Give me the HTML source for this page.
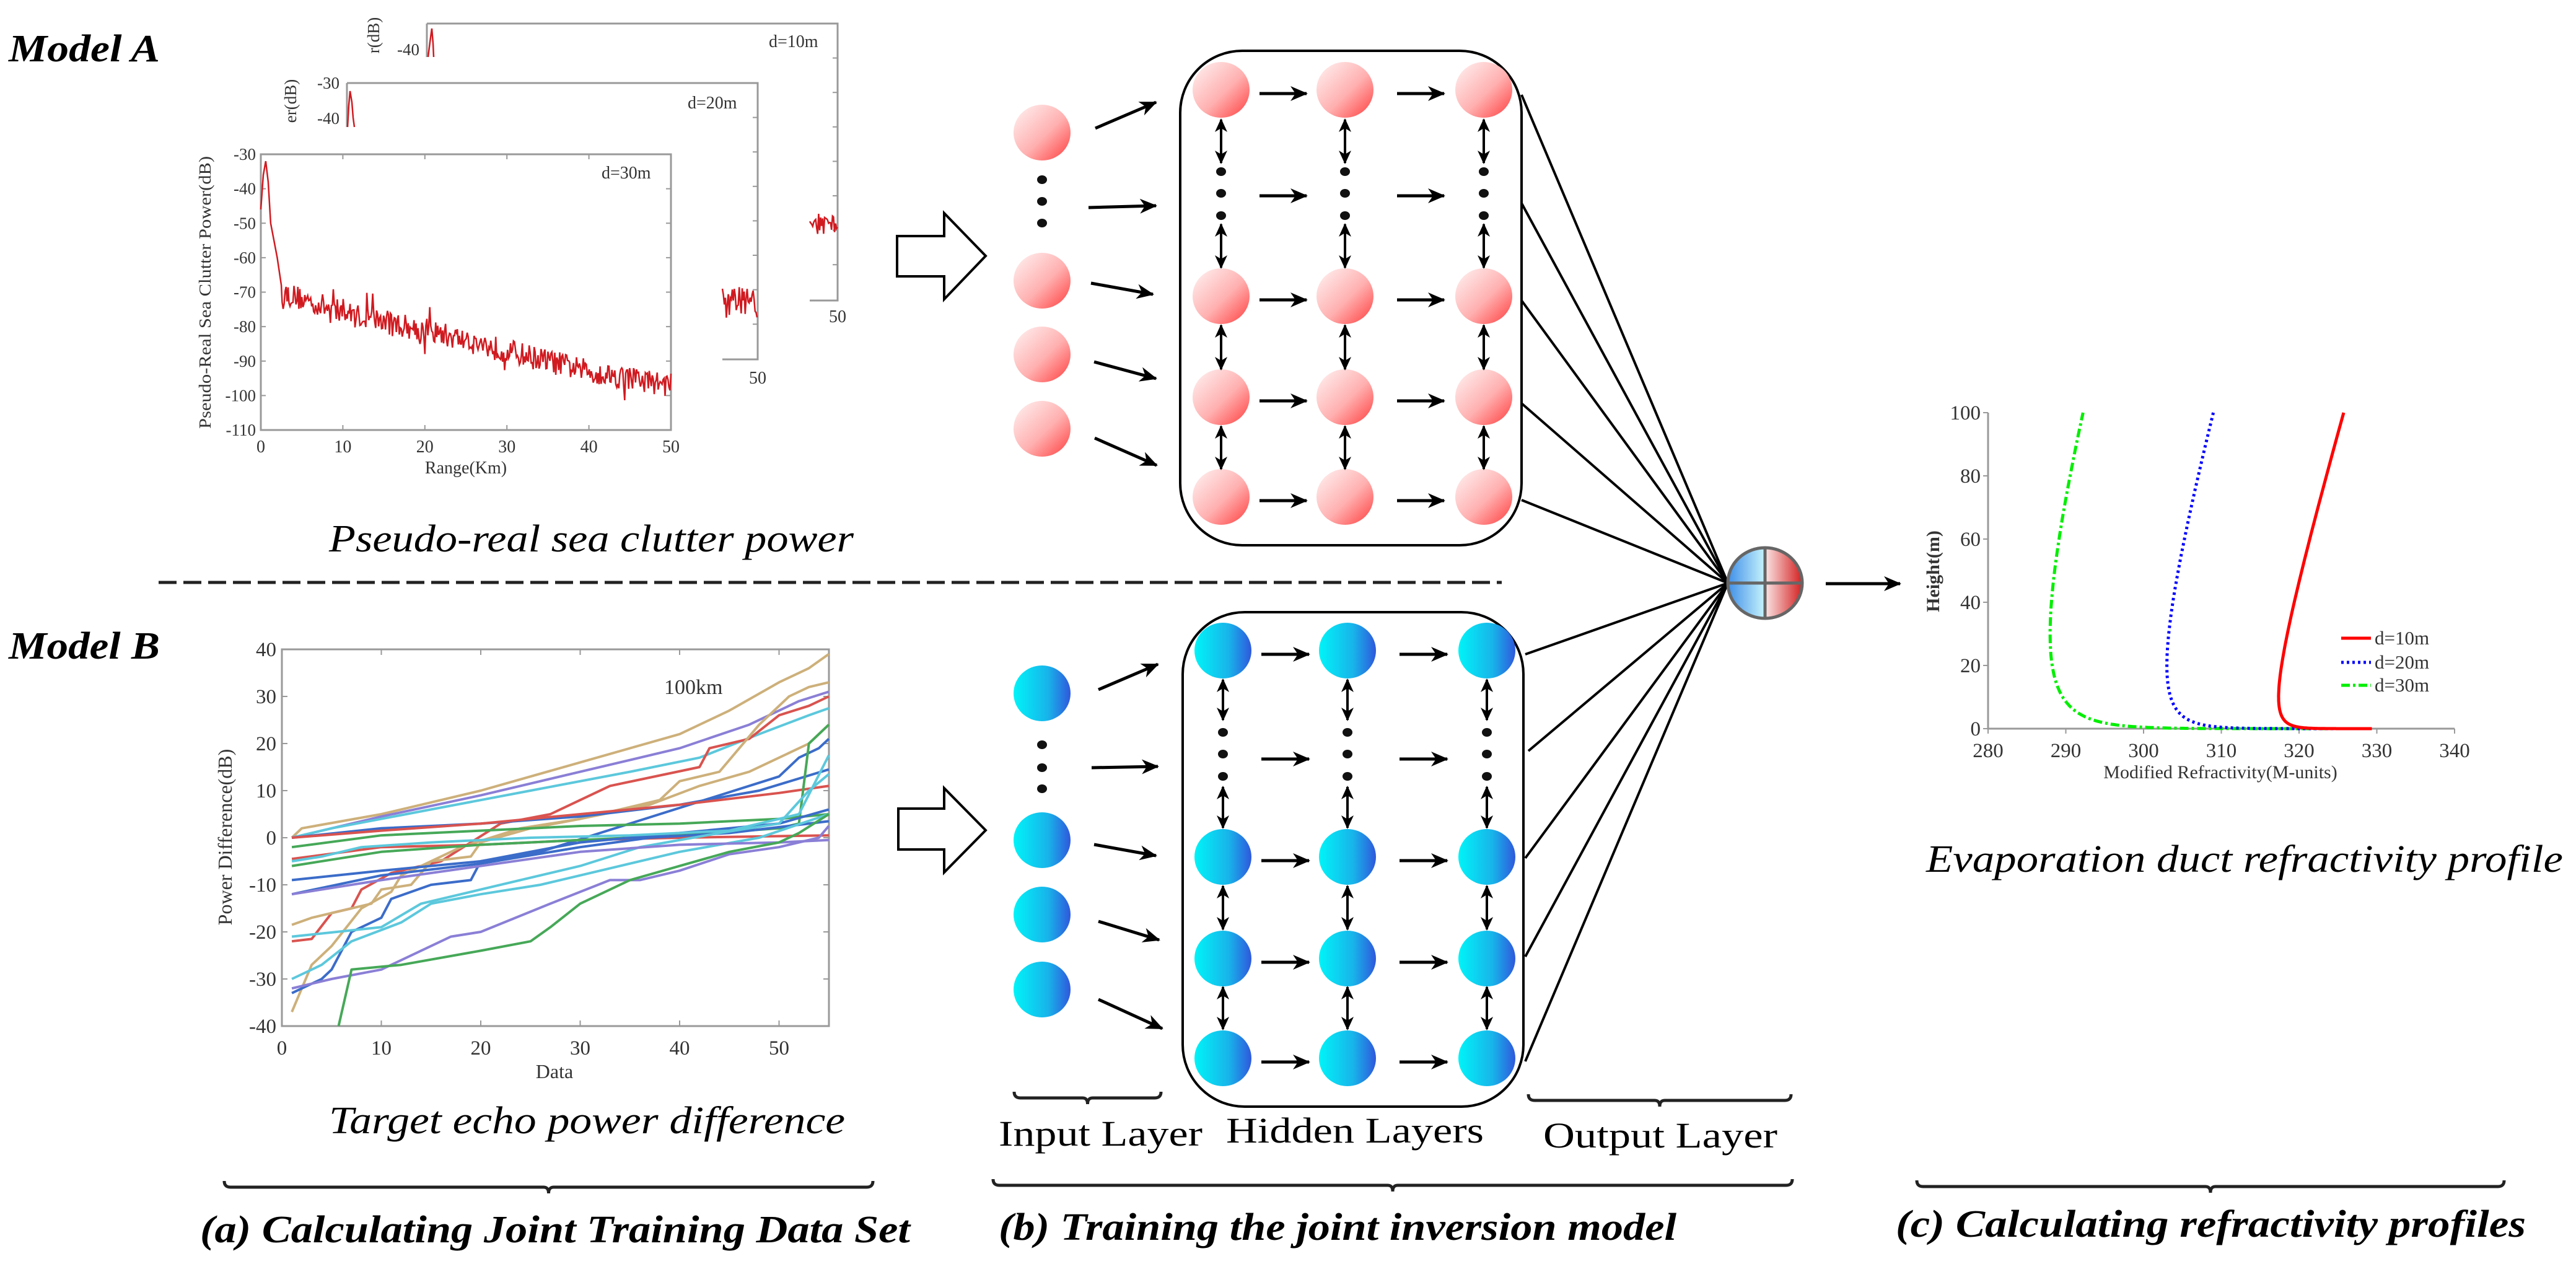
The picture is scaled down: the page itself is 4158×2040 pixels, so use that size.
<!DOCTYPE html>
<html><head><meta charset="utf-8"><style>
html,body{margin:0;padding:0;background:#fff;}
svg{display:block;}
text{font-family:"Liberation Serif",serif;}
</style></head><body>
<svg id="s" width="4158" height="2040" viewBox="0 0 4158 2040" xmlns="http://www.w3.org/2000/svg">
<defs>
<linearGradient id="gr" x1="0" y1="0" x2="1" y2="1"><stop offset="0" stop-color="#fff4f4"/><stop offset="0.55" stop-color="#ffb0b0"/><stop offset="1" stop-color="#ff3c3c"/></linearGradient>
<linearGradient id="gb" x1="0" y1="0" x2="1" y2="0"><stop offset="0" stop-color="#00f4f8"/><stop offset="0.6" stop-color="#18b4ea"/><stop offset="1" stop-color="#2f58dc"/></linearGradient>
<linearGradient id="ob" x1="0" y1="0" x2="1" y2="0"><stop offset="0" stop-color="#3f8fe8"/><stop offset="1" stop-color="#c8f4fc"/></linearGradient>
<linearGradient id="or" x1="0" y1="0" x2="1" y2="0"><stop offset="0" stop-color="#fbe6e6"/><stop offset="1" stop-color="#d42020"/></linearGradient>
<marker id="ah" markerUnits="userSpaceOnUse" markerWidth="30" markerHeight="26" refX="26" refY="13" orient="auto-start-reverse"><path d="M0,1 L28,13 L0,25 L8,13 Z" fill="#000"/></marker>
<marker id="ah2" markerUnits="userSpaceOnUse" markerWidth="24" markerHeight="20" refX="20" refY="10" orient="auto-start-reverse"><path d="M0,0 L22,10 L0,20 L6,10 Z" fill="#000"/></marker>
</defs>

<!-- Titles -->
<text x="14" y="99" font-size="62" font-weight="bold" font-style="italic" textLength="244" lengthAdjust="spacingAndGlyphs">Model A</text>
<text x="14" y="1063" font-size="62" font-weight="bold" font-style="italic" textLength="244" lengthAdjust="spacingAndGlyphs">Model B</text>

<!-- Plot A frames -->
<g fill="none" stroke="#999" stroke-width="3">
<path d="M689,38 H1352 V485 H1307"/>
<path d="M689,38 V92"/>
<path d="M560,134 H1223 V580 H1166"/>
<path d="M560,134 V205"/>
<rect x="421" y="249" width="662" height="445" fill="#fff"/>
</g>
<g id="pa"></g>
<text x="1241" y="76" font-size="28" fill="#333">d=10m</text>
<text x="1110" y="175" font-size="28" fill="#333">d=20m</text>
<text x="971" y="288" font-size="28" fill="#333">d=30m</text>
<text x="641" y="89" font-size="27" fill="#333">-40</text>
<text x="512" y="143" font-size="27" fill="#333">-30</text>
<text x="512" y="200" font-size="27" fill="#333">-40</text>
<text x="1352" y="520" font-size="28" fill="#333" text-anchor="middle">50</text>
<text x="1223" y="619" font-size="28" fill="#333" text-anchor="middle">50</text>
<text transform="translate(612,57) rotate(-90)" font-size="27" fill="#333" text-anchor="middle">r(dB)</text>
<text transform="translate(478,163) rotate(-90)" font-size="27" fill="#333" text-anchor="middle">er(dB)</text>
<text transform="translate(340,472) rotate(-90)" font-size="27" fill="#333" text-anchor="middle" textLength="440" lengthAdjust="spacingAndGlyphs">Pseudo-Real Sea Clutter Power(dB)</text>
<text x="752" y="764" font-size="28" fill="#333" text-anchor="middle">Range(Km)</text>
<text x="531" y="890" font-size="62" font-style="italic" textLength="847" lengthAdjust="spacingAndGlyphs">Pseudo-real sea clutter power</text>

<!-- dashed line -->
<line x1="256" y1="940" x2="2424" y2="940" stroke="#222" stroke-width="5" stroke-dasharray="29,11"/>

<!-- Plot B -->
<rect x="455" y="1048" width="883" height="608" fill="none" stroke="#999" stroke-width="3"/>
<g id="pb"></g>
<text x="1072" y="1120" font-size="34" fill="#333">100km</text>
<text transform="translate(374,1351) rotate(-90)" font-size="32" fill="#333" text-anchor="middle">Power Difference(dB)</text>
<text x="895" y="1740" font-size="32" fill="#333" text-anchor="middle">Data</text>
<text x="531" y="1829" font-size="62" font-style="italic" textLength="833" lengthAdjust="spacingAndGlyphs">Target echo power difference</text>

<!-- hollow arrows -->
<polygon points="1448,381 1524,381 1524,344 1591,413 1524,483 1524,446 1448,446" fill="#fff" stroke="#000" stroke-width="4"/>
<polygon points="1450,1305 1524,1305 1524,1272 1591,1340 1524,1408 1524,1371 1450,1371" fill="#fff" stroke="#000" stroke-width="4"/>

<!-- network -->
<rect x="1905" y="82" width="551" height="798" rx="100" fill="none" stroke="#000" stroke-width="4"/>
<rect x="1909" y="988" width="550" height="798" rx="100" fill="none" stroke="#000" stroke-width="4"/>
<g id="net"></g>

<!-- output node -->
<path d="M2849,884 A60,57 0 0 0 2849,998 Z" fill="url(#ob)"/>
<path d="M2849,884 A60,57 0 0 1 2849,998 Z" fill="url(#or)"/>
<ellipse cx="2849" cy="941" rx="60" ry="57" fill="none" stroke="#666" stroke-width="5"/>
<line x1="2849" y1="884" x2="2849" y2="998" stroke="#666" stroke-width="5"/>
<line x1="2789" y1="941" x2="2909" y2="941" stroke="#666" stroke-width="5"/>
<line x1="2947" y1="942" x2="3067" y2="942" stroke="#000" stroke-width="5" marker-end="url(#ah)"/>

<!-- Plot C -->
<path d="M3209,666 V1176 H3962" fill="none" stroke="#999" stroke-width="3"/>
<g id="pc"></g>
<text transform="translate(3130,922) rotate(-90)" font-size="30" font-weight="bold" fill="#333" text-anchor="middle">Height(m)</text>
<text x="3584" y="1256" font-size="30" fill="#333" text-anchor="middle">Modified Refractivity(M-units)</text>
<line x1="3779" y1="1030" x2="3827" y2="1030" stroke="#f00" stroke-width="5"/>
<line x1="3779" y1="1069" x2="3827" y2="1069" stroke="#00f" stroke-width="5" stroke-dasharray="4,5"/>
<line x1="3779" y1="1106" x2="3827" y2="1106" stroke="#0e0" stroke-width="5" stroke-dasharray="14,5,4,5"/>
<text x="3833" y="1040" font-size="31" fill="#333">d=10m</text>
<text x="3833" y="1079" font-size="31" fill="#333">d=20m</text>
<text x="3833" y="1116" font-size="31" fill="#333">d=30m</text>
<text x="3109" y="1407" font-size="62" font-style="italic" textLength="1028" lengthAdjust="spacingAndGlyphs">Evaporation duct refractivity profile</text>

<!-- braces & labels -->
<g id="br" fill="none" stroke="#222" stroke-width="5"></g>
<text x="1612" y="1849" font-size="58" textLength="329" lengthAdjust="spacingAndGlyphs">Input Layer</text>
<text x="1979" y="1844" font-size="58" textLength="416" lengthAdjust="spacingAndGlyphs">Hidden Layers</text>
<text x="2491" y="1852" font-size="58" textLength="378" lengthAdjust="spacingAndGlyphs">Output Layer</text>
<text x="323" y="2005" font-size="62" font-weight="bold" font-style="italic" textLength="1146" lengthAdjust="spacingAndGlyphs">(a) Calculating Joint Training Data Set</text>
<text x="1612" y="2001" font-size="62" font-weight="bold" font-style="italic" textLength="1094" lengthAdjust="spacingAndGlyphs">(b) Training the joint inversion model</text>
<text x="3060" y="1996" font-size="62" font-weight="bold" font-style="italic" textLength="1017" lengthAdjust="spacingAndGlyphs">(c) Calculating refractivity  profiles</text>
</svg>
<script>
(function(){
var NS="http://www.w3.org/2000/svg";
function el(t,a,p){var e=document.createElementNS(NS,t);for(var k in a)e.setAttribute(k,a[k]);if(p)p.appendChild(e);return e;}
function tx(s,a,p){var e=el("text",a,p);e.textContent=s;return e;}
var seed=12345;function rnd(){seed=(seed*16807)%2147483647;return seed/2147483647;}
function pts(a){return a.map(function(p){return p[0].toFixed(1)+","+p[1].toFixed(1);}).join(" ");}

/* ---------- Plot A ---------- */
var pa=document.getElementById("pa");
function ax(r){return 421+r*13.24;} function ay(p){return 249+(-30-p)*5.5625;}
for(var i=0;i<9;i++){var v=-30-10*i,y=ay(v);
 tx(String(v),{x:413,y:y+9,"font-size":27,fill:"#333","text-anchor":"end"},pa);
 el("line",{x1:421,y1:y,x2:429,y2:y,stroke:"#999","stroke-width":2},pa);
 el("line",{x1:1083,y1:y,x2:1075,y2:y,stroke:"#999","stroke-width":2},pa);}
for(var i=0;i<6;i++){var x=ax(10*i);
 tx(String(10*i),{x:x,y:730,"font-size":28,fill:"#333","text-anchor":"middle"},pa);
 el("line",{x1:x,y1:694,x2:x,y2:686,stroke:"#999","stroke-width":2},pa);
 el("line",{x1:x,y1:249,x2:x,y2:257,stroke:"#999","stroke-width":2},pa);}
for(var i=1;i<8;i++){ // right ticks of back frames
 el("line",{x1:1223,y1:134+i*55.6,x2:1215,y2:134+i*55.6,stroke:"#999","stroke-width":2},pa);
 el("line",{x1:1352,y1:38+i*55.6,x2:1344,y2:38+i*55.6,stroke:"#999","stroke-width":2},pa);}
var head=[[0,-46],[0.3,-36],[0.6,-32],[0.9,-38],[1.2,-50],[1.6,-55],[2,-60],[2.5,-68]];
var tr=[[2.5,-70],[5,-72],[10,-76],[20,-81],[30,-87],[40,-93],[50,-97]];
function trend(r){for(var k=0;k<tr.length-1;k++){if(r<=tr[k+1][0]){var t=(r-tr[k][0])/(tr[k+1][0]-tr[k][0]);return tr[k][1]+t*(tr[k+1][1]-tr[k][1]);}}return -97;}
var P=head.map(function(q){return [ax(q[0]),ay(q[1])];});
for(var r=2.6;r<=50;r+=0.12){var n=(rnd()-0.5)*7;if(rnd()<0.05)n+=(rnd()-0.5)*16;P.push([ax(r),ay(Math.max(-104,trend(r)+n))]);}
el("polyline",{points:pts(P),fill:"none",stroke:"#d01a20","stroke-width":2.5},pa);
function frag(x0,x1,yc,amp){var a=[];for(var x=x0;x<=x1;x+=1.6){a.push([x,yc+(rnd()-0.5)*amp]);}el("polyline",{points:pts(a),fill:"none",stroke:"#d01a20","stroke-width":2.5},pa);}
frag(1166,1223,488,50);frag(1307,1352,362,34);
el("polyline",{points:"561,205 563,170 565,147 568,165 570,190 572,205",fill:"none",stroke:"#d01a20","stroke-width":2.5},pa);
el("polyline",{points:"691,92 694,68 697,46 699,70 700,92",fill:"none",stroke:"#d01a20","stroke-width":2.5},pa);

/* ---------- Plot B ---------- */
var pb=document.getElementById("pb");
function bx(d){return 455+d*16.05;} function by(v){return 1048+(40-v)*7.6;}
for(var i=0;i<9;i++){var v=40-10*i,y=by(v);
 tx(String(v),{x:446,y:y+11,"font-size":33,fill:"#333","text-anchor":"end"},pb);
 el("line",{x1:455,y1:y,x2:464,y2:y,stroke:"#999","stroke-width":2},pb);
 el("line",{x1:1338,y1:y,x2:1329,y2:y,stroke:"#999","stroke-width":2},pb);}
for(var i=0;i<6;i++){var x=bx(10*i);
 tx(String(10*i),{x:x,y:1702,"font-size":33,fill:"#333","text-anchor":"middle"},pb);
 el("line",{x1:x,y1:1656,x2:x,y2:1647,stroke:"#999","stroke-width":2},pb);
 el("line",{x1:x,y1:1048,x2:x,y2:1057,stroke:"#999","stroke-width":2},pb);}
var T="#cdb07a",Pu="#8a7fd6",C="#5cc8dc",R="#d9534f",B="#3b6cc9",G="#46a858";
var L=[
[T,[[1,0],[2,2],[10,5],[20,10],[30,16],[40,22],[45,27],[50,33],[53,36],[55,39]]],
[Pu,[[1,0],[10,4.5],[20,9],[30,14],[40,19],[47,24],[52,29],[55,31]]],
[C,[[1,0],[5,2],[15,6],[25,10],[35,14],[42,17],[48,22],[53,26],[55,27.5]]],
[R,[[1,-22],[3,-21.5],[5,-16],[7,-15],[8,-11],[11,-7.5],[16,-5],[19,-1],[22,3],[27,5],[30,8],[33,11],[42,15],[43,19],[47,21],[50,26],[53,28],[55,30]]],
[T,[[1,-18.5],[3,-17],[5,-16],[9,-14],[10,-11],[13,-10],[15,-5],[19,-4],[20,-1],[25,2],[30,4],[36,7],[38,8],[40,12],[44,14],[46,19],[48,24],[51,30],[53,32],[55,33]]],
[T,[[1,-37],[3,-27],[5,-23],[8,-15],[11,-11.5],[12,-8],[18,-2],[24,2],[30,4],[37,7],[42,11],[47,14],[50,17],[53,20],[55,24]]],
[B,[[1,-33],[4,-30],[5,-28],[7,-20],[10,-17],[11,-13],[15,-10],[19,-9],[20,-5],[26,-3],[32,1],[38,5],[44,9],[50,13],[52,17],[54,19],[55,21]]],
[B,[[1,0],[10,2],[20,3],[30,4.5],[40,7],[48,10],[55,14.5]]],
[R,[[1,0],[10,1.5],[20,3],[30,5],[40,7],[50,9.5],[55,11]]],
[R,[[1,-4.5],[10,-2],[20,-1.5],[30,-0.5],[40,0],[55,0.5]]],
[G,[[1,-2],[10,0.5],[20,1.5],[30,2.5],[40,3],[50,4],[55,5]]],
[G,[[1,-6],[10,-3],[20,-1.5],[30,-0.5],[40,0.5],[50,2],[52,3],[53,20],[55,24]]],
[B,[[1,-12],[10,-8],[20,-5.5],[30,-2],[37,0],[45,1],[55,3.5]]],
[B,[[1,-9],[10,-7],[20,-5],[30,-1],[40,1],[50,3],[55,6]]],
[C,[[1,-5],[4,-4],[8,-2],[15,-1],[25,0],[35,0.5],[45,1.5],[52,5],[55,17.5]]],
[C,[[1,-21],[10,-19],[14,-14],[20,-11],[30,-6],[36,-2],[44,1],[50,3],[53,10],[55,13.5]]],
[C,[[1,-30],[4,-27],[7,-22],[12,-18],[15,-14],[20,-12],[26,-10],[30,-8],[40,-3],[48,0],[55,5]]],
[Pu,[[1,-32],[5,-30],[10,-28],[17,-21],[20,-20],[27,-14],[33,-9],[36,-9],[40,-7],[45,-3.5],[50,-2],[54,0],[55,2.5]]],
[Pu,[[1,-12],[10,-9],[20,-6],[30,-3],[40,-1.5],[50,-1],[55,-0.5]]],
[G,[[5.7,-40],[7,-28],[12,-27],[20,-24],[25,-22],[27,-19],[30,-14],[35,-9],[40,-6],[45,-3],[50,-1],[52,1],[55,5]]]
];
L.forEach(function(l){el("polyline",{points:pts(l[1].map(function(q){return [bx(q[0]),by(q[1])];})),fill:"none",stroke:l[0],"stroke-width":4,"stroke-linejoin":"round"},pb);});

/* ---------- Network ---------- */
var net=document.getElementById("net");
function node(x,y,f){el("ellipse",{cx:x,cy:y,rx:46,ry:45,fill:f},net);}
function dot(x,y){el("ellipse",{cx:x,cy:y,rx:8,ry:7,fill:"#111"},net);}
function arr(x1,y1,x2,y2){el("line",{x1:x1,y1:y1,x2:x2,y2:y2,stroke:"#000","stroke-width":5,"marker-end":"url(#ah)"},net);}
function darr(x,y1,y2){el("line",{x1:x,y1:y1,x2:x,y2:y2,stroke:"#000","stroke-width":4,"marker-start":"url(#ah2)","marker-end":"url(#ah2)"},net);}
function ln(x1,y1,x2,y2){el("line",{x1:x1,y1:y1,x2:x2,y2:y2,stroke:"#000","stroke-width":4},net);}
function build(cfg){
 cfg.inY.forEach(function(y){node(1682,y,cfg.f);});
 cfg.inD.forEach(function(y){dot(1682,y);});
 cfg.inA.forEach(function(a){arr(a[0],a[1],a[2],a[3]);});
 cfg.cols.forEach(function(x,ci){
  cfg.rows.forEach(function(y){node(x,y,cfg.f);});
  cfg.dots.forEach(function(y){dot(x,y);});
  cfg.v.forEach(function(v){darr(x,v[0],v[1]);});
 });
 cfg.rows.concat([cfg.mid]).forEach(function(y){
  arr(cfg.cols[0]+62,y+6,cfg.cols[1]-62,y+6);
  arr(cfg.cols[1]+84,y+6,cfg.cols[2]-64,y+6);
 });
 cfg.out.forEach(function(p){ln(p[0],p[1],2789,941);});
}
build({f:"url(#gr)",inY:[214,453,572,692],inD:[290,325,360],
 inA:[[1768,207,1866,165],[1757,335,1866,332],[1761,457,1861,475],[1766,584,1866,611],[1767,707,1867,751]],
 cols:[1971,2171,2395],rows:[145,478,641,802],dots:[277,312,348],mid:310,
 v:[[193,263],[362,432],[525,596],[688,757]],
 out:[[2456,153],[2456,328],[2456,485],[2456,651],[2456,807]]});
build({f:"url(#gb)",inY:[1119,1356,1476,1597],inD:[1202,1239,1273],
 inA:[[1773,1113,1869,1072],[1762,1239,1869,1237],[1766,1363,1866,1381],[1773,1487,1871,1517],[1773,1613,1876,1660]],
 cols:[1974,2175,2400],rows:[1050,1383,1547,1708],dots:[1182,1217,1253],mid:1219,
 v:[[1097,1162],[1270,1336],[1430,1500],[1593,1661]],
 out:[[2462,1056],[2467,1212],[2462,1385],[2462,1544],[2462,1713]]});

/* ---------- Plot C ---------- */
var pc=document.getElementById("pc");
function cx(m){return 3209+(m-280)*12.55;} function cy(h){return 1176-h*5.1;}
for(var i=0;i<6;i++){var h=20*i,y=cy(h);
 tx(String(h),{x:3197,y:y+11,"font-size":33,fill:"#333","text-anchor":"end"},pc);
 el("line",{x1:3201,y1:y,x2:3209,y2:y,stroke:"#999","stroke-width":2},pc);}
for(var i=0;i<7;i++){var m=280+10*i,x=cx(m);
 tx(String(m),{x:x,y:1222,"font-size":33,fill:"#333","text-anchor":"middle"},pc);
 el("line",{x1:x,y1:1176,x2:x,y2:1184,stroke:"#999","stroke-width":2},pc);}
function prof(d,col,dash){var z0=1.5e-4,a=[];
 for(var k=0;k<=200;k++){var h=Math.pow(10,-4+k*(6/200));if(h>100)h=100;
  var M=330+0.125*(h-d*Math.log((h+z0)/z0));a.push([cx(M),cy(h)]);}
 var at={points:pts(a),fill:"none",stroke:col,"stroke-width":5};if(dash)at["stroke-dasharray"]=dash;
 el("polyline",at,pc);}
prof(30,"#0e0","14,5,4,5");prof(20,"#00f","4,5");prof(10,"#f00");

/* ---------- Braces ---------- */
var br=document.getElementById("br");
function brace(x1,x2,y0){var m=(x1+x2)/2;
 el("path",{d:"M"+x1+","+y0+" q0,10 10,10 H"+(m-8)+" q8,0 8,10 q0,-10 8,-10 H"+(x2-10)+" q10,0 10,-10"},br);}
brace(1637,1874,1762);brace(2467,2891,1766);
brace(362,1409,1906);brace(1603,2893,1903);brace(3094,4042,1905);
})();
</script>
</body></html>
